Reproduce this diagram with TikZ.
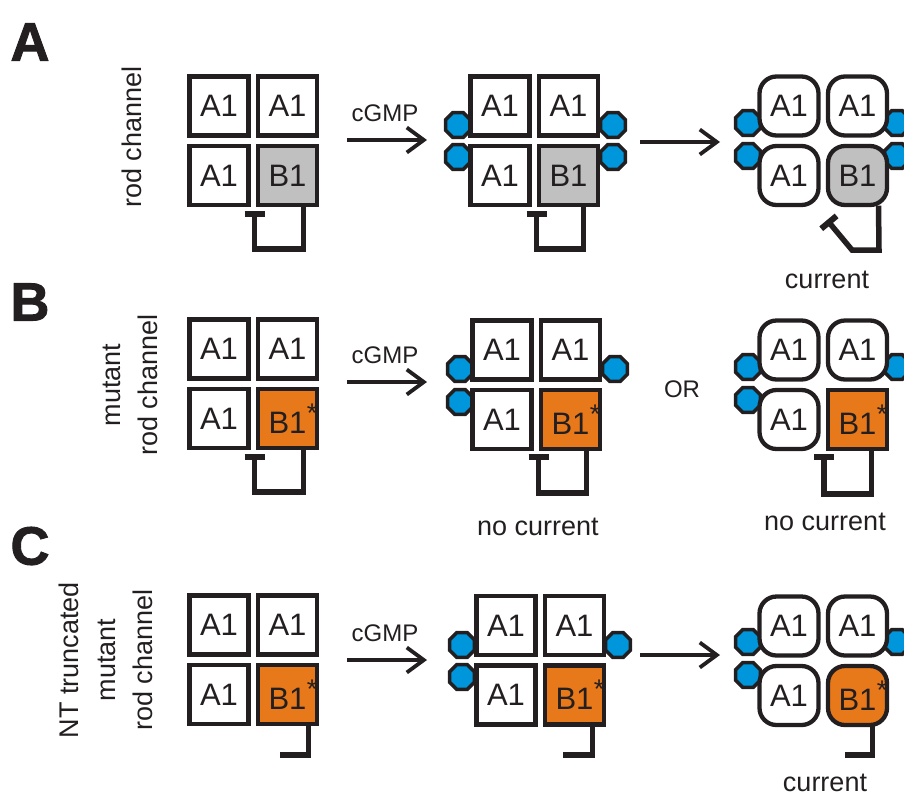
\documentclass[tikz,border=0pt]{standalone}
\usepackage{fontspec}
\setmainfont{Liberation Sans}
\newfontfamily\heavyfont{Liberation Sans Bold}[FakeBold=1.6]
\usetikzlibrary{shapes.geometric,arrows.meta}
\definecolor{ink}{HTML}{231F20}
\definecolor{subgray}{HTML}{C0C0C0}
\definecolor{mutorange}{HTML}{E8791A}
\definecolor{cgmpblue}{HTML}{0096DC}

% four subunits of one channel: prefix, x, y, A1 style, B1 style, B1 text
\newcommand\channel[6]{%
  \node[#4] (#1tl) at (#2,#3) {A1};
  \node[#4] (#1tr) at (#2+68.5,#3) {A1};
  \node[#4] (#1bl) at (#2,#3+69.5) {A1};
  \node[#5] (#1br) at (#2+68.5,#3+69.5) {#6};
}
\newcommand\mutB{B1\rlap{\kern0.5pt\raisebox{11pt}{\fontsize{27}{27}\selectfont *}}}

\begin{document}
\begin{tikzpicture}[x=1pt,y=-1pt,
  sub/.style={draw=ink, line width=4.3pt, minimum width=59pt, minimum height=59pt,
    inner sep=0pt, fill=white, text=ink, font=\fontsize{31}{31}\selectfont},
  opensub/.style={sub, rounded corners=17pt},
  graysub/.style={sub, fill=subgray},
  grayopen/.style={opensub, fill=subgray},
  orsub/.style={sub, fill=mutorange},
  oropen/.style={opensub, fill=mutorange},
  lig/.style={regular polygon, regular polygon sides=8, draw=ink, line width=3.5pt,
    fill=cgmpblue, minimum size=27pt, inner sep=0pt},
  react/.style={draw=ink, line width=3.8pt, -{Straight Barb[length=17pt,width=25pt,line width=3.8pt]}},
  gate/.style={draw=ink, line width=5.5pt, -{Bar[width=20pt,line width=6pt]}},
  hook/.style={draw=ink, line width=5.5pt},
  lbl/.style={text=ink, font=\fontsize{24}{24}\selectfont},
  cur/.style={text=ink, font=\fontsize{27}{27}\selectfont},
  side/.style={text=ink, rotate=90, align=center, font=\fontsize{27}{37}\selectfont},
  panel/.style={text=ink, font=\heavyfont\fontsize{54}{54}\selectfont}
]
\useasboundingbox (0,0) rectangle (904,796);

% panel letters and row labels
\node[panel] (pA) at (30,42) {A};
\node[panel] (pB) at (30,302) {B};
\node[panel] (pC) at (30,546) {C};
\node[side] (sA) at (132,137) {rod channel};
\node[side] (sB) at (130,385) {mutant\\rod channel};
\node[side] (sC) at (106,660) {NT truncated\\mutant\\rod channel};

% ---------- row A ----------
\channel{a1}{219}{106}{sub}{graysub}{B1}
\node[lig] (a2l1) at (458,125) {};
\node[lig] (a2l2) at (458,157) {};
\node[lig] (a2r1) at (613,125) {};
\node[lig] (a2r2) at (613,157) {};
\channel{a2}{500}{106}{sub}{graysub}{B1}
\node[lig] (a3l1) at (748,123) {};
\node[lig] (a3l2) at (748,156) {};
\node[lig] (a3r1) at (897,123) {};
\node[lig] (a3r2) at (897,156) {};
\channel{a3}{789}{106}{opensub}{grayopen}{B1}

\coordinate (a1t) at (254.5,211);
\draw[gate] ([xshift=16pt,yshift=1pt]a1br.south) -- ++(0,43) -| (a1t);
\coordinate (a2t) at (536.5,211);
\draw[gate] ([xshift=15pt,yshift=1pt]a2br.south) -- ++(0,43) -| (a2t);
\coordinate (a3k) at (879,250);
\coordinate (a3t) at (827,220);
\draw[gate] ([xshift=21pt,yshift=1.5pt]a3br.south) -- (a3k) -- (852,250) -- (a3t);

\coordinate (a1o) at (347,140);
\coordinate (a2i) at (427,140);
\draw[react] (a1o) -- (a2i);
\node[lbl] (cgA) at (385,113) {cGMP};
\coordinate (a2o) at (640,142);
\coordinate (a3i) at (720,142);
\draw[react] (a2o) -- (a3i);
\node[cur] (curA) at (827,280) {current};

% ---------- row B ----------
\channel{b1}{219}{349}{sub}{orsub}{\mutB}
\node[lig] (b2l1) at (460,369) {};
\node[lig] (b2l2) at (460,402) {};
\node[lig] (b2r1) at (615,369) {};
\channel{b2}{502}{350}{sub}{orsub}{\mutB}
\node[lig] (b3l1) at (748,367) {};
\node[lig] (b3l2) at (748,400) {};
\node[lig] (b3r1) at (897,367) {};
\channel{b3}{789}{350}{opensub}{orsub}{\mutB}

\coordinate (b1t) at (254.5,454);
\draw[gate] ([xshift=16pt,yshift=1pt]b1br.south) -- ++(0,43) -| (b1t);
\coordinate (b2t) at (538.5,454);
\draw[gate] ([xshift=16pt,yshift=1pt]b2br.south) -- ++(0,43) -| (b2t);
\coordinate (b3t) at (824,454);
\draw[gate] ([xshift=14pt,yshift=1pt]b3br.south) -- ++(0,44) -| (b3t);

\coordinate (b1o) at (347,382);
\coordinate (b2i) at (427,382);
\draw[react] (b1o) -- (b2i);
\node[lbl] (cgB) at (385,355) {cGMP};
\node[lbl] (orB) at (682,389) {OR};
\node[cur] (ncB2) at (538,527) {no current};
\node[cur] (ncB3) at (825,522) {no current};

% ---------- row C ----------
\channel{c1}{219}{625}{sub}{orsub}{\mutB}
\node[lig] (c2l1) at (462,645) {};
\node[lig] (c2l2) at (462,677) {};
\node[lig] (c2r1) at (618,645) {};
\channel{c2}{506}{625.5}{sub}{orsub}{\mutB}
\node[lig] (c3l1) at (748,642) {};
\node[lig] (c3l2) at (748,675) {};
\node[lig] (c3r1) at (897,642) {};
\channel{c3}{789}{626}{opensub}{oropen}{\mutB}

\coordinate (c1t) at (280,755);
\draw[hook] ([xshift=21pt,yshift=1pt]c1br.south) |- (c1t);
\coordinate (c2t) at (563,755);
\draw[hook] ([xshift=18pt,yshift=1pt]c2br.south) |- (c2t);
\coordinate (c3t) at (845,755);
\draw[hook] ([xshift=15pt,yshift=1.5pt]c3br.south) |- (c3t);

\coordinate (c1o) at (347,660);
\coordinate (c2i) at (427,660);
\draw[react] (c1o) -- (c2i);
\node[lbl] (cgC) at (385,633) {cGMP};
\coordinate (c2o) at (640,655);
\coordinate (c3i) at (720,655);
\draw[react] (c2o) -- (c3i);
\node[cur] (curC) at (825,783) {current};
\end{tikzpicture}
\end{document}
